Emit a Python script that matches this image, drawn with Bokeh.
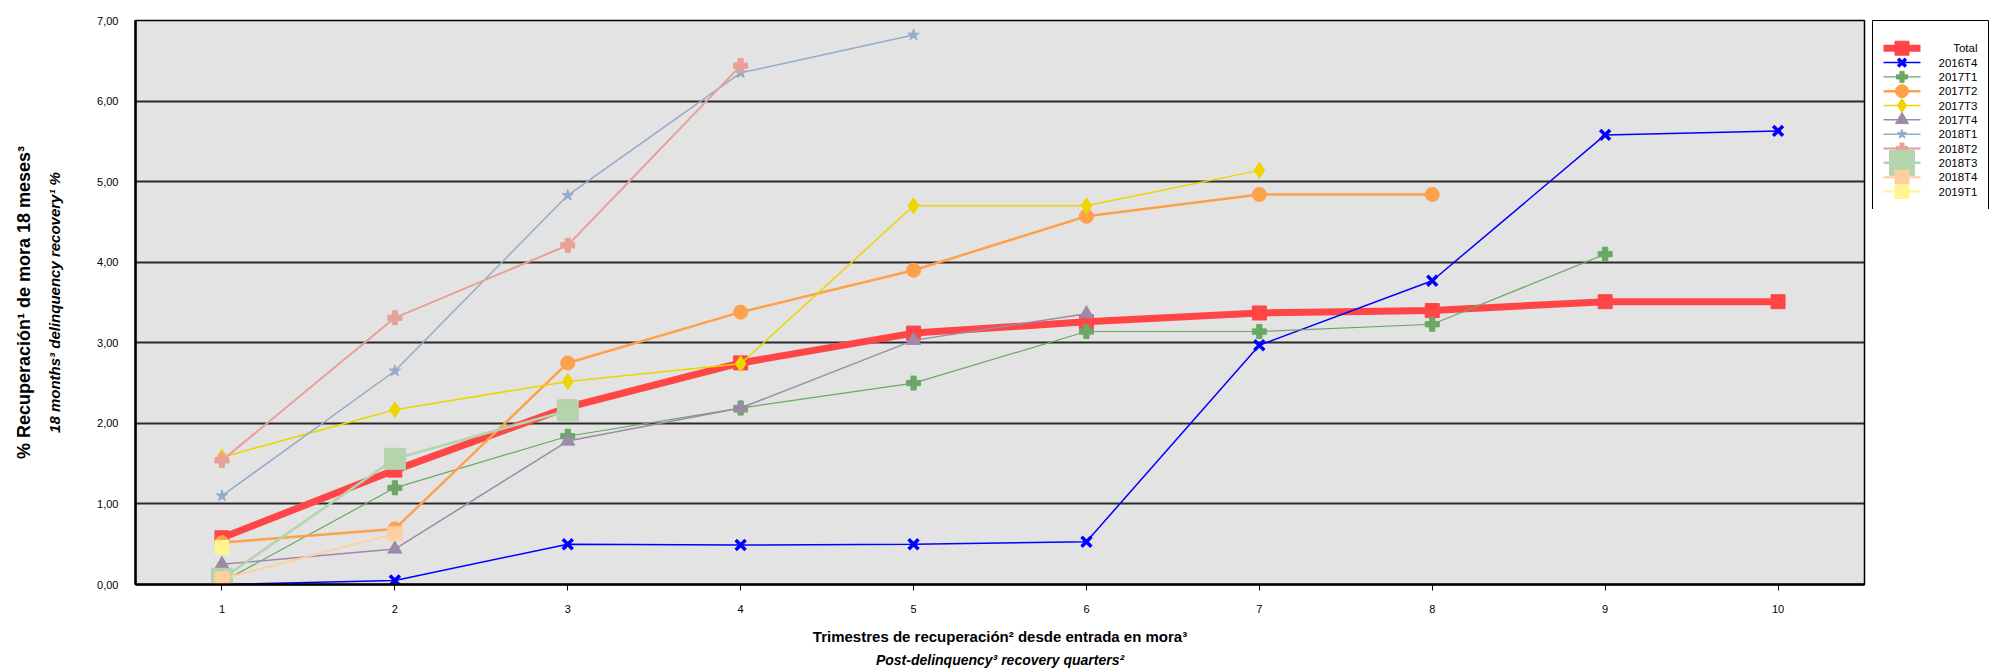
from bokeh.plotting import figure
from bokeh.models import Range1d, FixedTicker, Title
from bokeh.layouts import row
from bokeh.core.properties import value
from bokeh.embed import file_html
from bokeh.resources import INLINE

# ---------------- data ----------------
quarters = [1, 2, 3, 4, 5, 6, 7, 8, 9, 10]
x_tick_labels = ["1", "2", "3", "4", "5", "6", "7", "8", "9", "10"]
y_ticks = [0, 1, 2, 3, 4, 5, 6, 7]
y_tick_labels = ["0,00", "1,00", "2,00", "3,00", "4,00", "5,00", "6,00", "7,00"]

series_names = ["Total", "2016T4", "2017T1", "2017T2", "2017T3", "2017T4",
                "2018T1", "2018T2", "2018T3", "2018T4", "2019T1"]

total = [0.58, 1.42, 2.20, 2.75, 3.12, 3.26, 3.37, 3.40, 3.51, 3.51]
s2016T4 = [0.00, 0.05, 0.50, 0.49, 0.50, 0.53, 2.97, 3.77, 5.58, 5.63]
s2017T1 = [0.03, 1.20, 1.84, 2.19, 2.50, 3.14, 3.14, 3.23, 4.10]
s2017T2 = [0.52, 0.69, 2.75, 3.38, 3.90, 4.57, 4.84, 4.84]
s2017T3 = [1.58, 2.17, 2.52, 2.74, 4.70, 4.70, 5.14]
s2017T4 = [0.25, 0.44, 1.78, 2.19, 3.03, 3.36]
s2018T1 = [1.10, 2.65, 4.83, 6.35, 6.82]
s2018T2 = [1.54, 3.31, 4.21, 6.44]
s2018T3 = [0.07, 1.56, 2.16]
s2018T4 = [0.07, 0.63]
s2019T1 = [0.46]

series_values = [total, s2016T4, s2017T1, s2017T2, s2017T3, s2017T4,
                 s2018T1, s2018T2, s2018T3, s2018T4, s2019T1]

# ---------------- styles ----------------
styles = {
    "Total":  dict(color="#ff4545", lw=7,   marker="square",   size=14, lsize=14, mlw=1),
    "2016T4": dict(color="#0000ff", lw=1.5, marker="x",        size=14, lsize=11, mlw=3.5),
    "2017T1": dict(color="#6aa864", lw=1.2, marker="plus",     size=14, lsize=11, mlw=1),
    "2017T2": dict(color="#ffa04a", lw=2.5, marker="circle",   size=14, lsize=13, mlw=1),
    "2017T3": dict(color="#ecd500", lw=1.5, marker="diamond",  size=16, lsize=14, mlw=1),
    "2017T4": dict(color="#9c8aa8", lw=1.5, marker="triangle", size=14, lsize=13, mlw=1),
    "2018T1": dict(color="#94abc9", lw=1.5, marker="star",     size=12, lsize=10, mlw=1),
    "2018T2": dict(color="#e8a098", lw=2,   marker="plus",     size=14, lsize=11, mlw=1),
    "2018T3": dict(color="#b4d4ad", lw=2.5, marker="square",   size=21, lsize=25, mlw=1),
    "2018T4": dict(color="#ffcfa0", lw=2,   marker="square",   size=14, lsize=14, mlw=1),
    "2019T1": dict(color="#fff490", lw=2,   marker="square",   size=14, lsize=14, mlw=1),
}

FONT = "Liberation Sans"

p = figure(frame_width=1729, frame_height=564,
           x_range=Range1d(0.5, 10.5), y_range=Range1d(0, 7),
           output_backend="svg", toolbar_location=None,
           min_border_left=135, min_border_top=20, min_border_right=8, min_border_bottom=0,
           background_fill_color="#e3e3e3", border_fill_color="white",
           outline_line_color="black", outline_line_width=1.5)

for name, vals in zip(series_names, series_values):
    st = styles[name]
    xs = quarters[:len(vals)]
    p.line(xs, vals, line_color=st["color"], line_width=st["lw"])
    p.scatter(xs, vals, marker=st["marker"], size=st["size"],
              fill_color=st["color"], line_color=st["color"], line_width=st["mlw"])

# axes
p.xaxis.ticker = FixedTicker(ticks=quarters)
p.xaxis.major_label_overrides = {q: l for q, l in zip(quarters, x_tick_labels)}
p.xaxis.major_tick_out = 6
p.xaxis.major_tick_in = 0
p.xaxis.minor_tick_line_color = None
p.xaxis.major_tick_line_color = "black"
p.xaxis.axis_line_width = 2.5
p.xaxis.axis_line_color = "black"
p.xaxis.major_label_text_font = FONT
p.xaxis.major_label_text_font_size = "11px"
p.xaxis.major_label_text_color = "black"
p.xaxis.major_label_standoff = 14
p.xaxis.axis_label = "Trimestres de recuperación² desde entrada en mora³"
p.xaxis.axis_label_text_font = FONT
p.xaxis.axis_label_text_font_size = "15px"
p.xaxis.axis_label_text_font_style = "bold"
p.xaxis.axis_label_text_color = "black"
p.xaxis.axis_label_standoff = 12

p.yaxis.ticker = FixedTicker(ticks=y_ticks)
p.yaxis.major_label_overrides = {t: l for t, l in zip(y_ticks, y_tick_labels)}
p.yaxis.major_tick_line_color = None
p.yaxis.minor_tick_line_color = None
p.yaxis.major_tick_out = 0
p.yaxis.major_tick_in = 0
p.yaxis.axis_line_width = 2.5
p.yaxis.axis_line_color = "black"
p.yaxis.major_label_text_font = FONT
p.yaxis.major_label_text_font_size = "11px"
p.yaxis.major_label_text_color = "black"
p.yaxis.major_label_standoff = 17
p.yaxis.axis_label = "18 months³ delinquency recovery¹ %"
p.yaxis.axis_label_text_font = FONT
p.yaxis.axis_label_text_font_size = "15px"
p.yaxis.axis_label_text_font_style = "bold italic"
p.yaxis.axis_label_text_color = "black"
p.yaxis.axis_label_standoff = 31

p.xgrid.grid_line_color = None
p.ygrid.ticker = FixedTicker(ticks=y_ticks)
p.ygrid.grid_line_color = "#2a2a2a"
p.ygrid.grid_line_width = 2

# extra titles
p.add_layout(Title(text="% Recuperación¹ de mora 18 meses³", align="center",
                   text_font=FONT, text_font_size="18px", text_font_style="bold",
                   text_color="black", standoff=19), "left")
p.add_layout(Title(text="Post-delinquency³ recovery quarters²", align="center",
                   text_font=FONT, text_font_size="14px", text_font_style="bold italic",
                   text_color="black", standoff=5), "below")

# ---------------- legend (separate small figure) ----------------
LEG_W, LEG_H = 117, 190
leg = figure(frame_width=LEG_W, frame_height=LEG_H,
             x_range=Range1d(0, LEG_W), y_range=Range1d(LEG_H, 0),
             output_backend="svg", toolbar_location=None,
             x_axis_location=None, y_axis_location=None,
             min_border_left=0, min_border_right=0, min_border_top=19, min_border_bottom=0,
             background_fill_color="white", border_fill_color="white",
             outline_line_color="black", outline_line_width=1)
leg.xgrid.grid_line_color = None
leg.ygrid.grid_line_color = None

row_top, row_step = 27.7, 14.33
gx0, gx1, gxm, tx = 11, 48, 29.5, 105
for i, name in enumerate(series_names):
    st = styles[name]
    yy = row_top + i * row_step
    leg.line([gx0, gx1], [yy, yy], line_color=st["color"], line_width=st["lw"])
    leg.scatter([gxm], [yy], marker=st["marker"], size=st["lsize"],
                fill_color=st["color"], line_color=st["color"], line_width=st["mlw"])
    leg.text([tx], [yy], text=[name], text_font=value(FONT), text_font_size="11.5px",
             text_align="right", text_baseline="middle", text_color="black")

layout = row(p, leg)
open("out.html", "w").write(file_html(layout, INLINE))
